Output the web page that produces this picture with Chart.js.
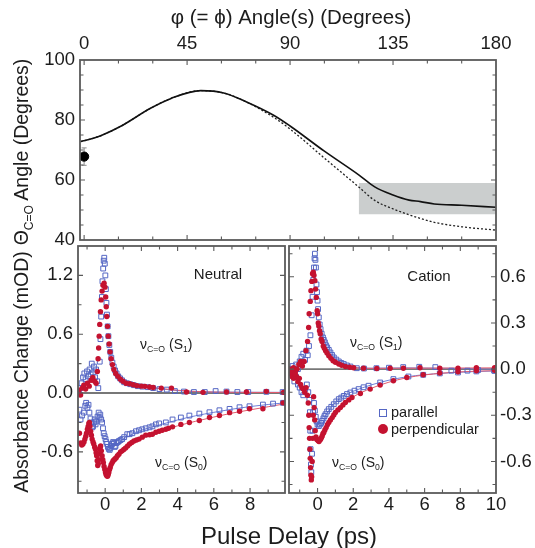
<!DOCTYPE html>
<html>
<head>
<meta charset="utf-8">
<script src="https://cdn.jsdelivr.net/npm/chart.js@4.4.1/dist/chart.umd.min.js"></script>
<style>
html,body{margin:0;padding:0;background:#fff;}
#wrap{position:relative;width:535px;height:548px;overflow:hidden;font-family:"Liberation Sans",Arial,Helvetica,sans-serif;color:#1c1c1c;}
canvas{position:absolute;left:0;top:0;}
.t{position:absolute;white-space:nowrap;line-height:1;}
.c{transform:translate(-50%,-50%);}
.l{transform:translate(0,-50%);}
.rot{transform:translate(-50%,-50%) rotate(-90deg);}
sub{font-size:62%;vertical-align:baseline;position:relative;top:0.38em;}
.sq{position:absolute;width:6px;height:6px;border:1.3px solid #5567c4;background:#fff;}
.dot{position:absolute;width:10px;height:10px;border-radius:50%;background:#c41230;}
</style>
</head>
<body>
<div id="wrap">
  <canvas id="cTop" width="535" height="548"></canvas>
  <canvas id="cNeu" width="535" height="548"></canvas>
  <canvas id="cCat" width="535" height="548"></canvas>

  <div class="t c" style="left:291px;top:17px;font-size:20.5px;">φ (= ϕ) Angle(s) (Degrees)</div>
  <div class="t rot" style="left:22px;top:152px;font-size:19.5px;">Θ<sub>C=O</sub> Angle (Degrees)</div>
  <div class="t rot" style="left:22px;top:372px;font-size:19.5px;">Absorbance Change (mOD)</div>
  <div class="t c" style="left:289px;top:536px;font-size:24px;">Pulse Delay (ps)</div>

  <div class="t c" style="left:218px;top:273px;font-size:15px;">Neutral</div>
  <div class="t c" style="left:429px;top:275px;font-size:15px;">Cation</div>
  <div class="t l" style="left:140px;top:344px;font-size:14px;">ν<sub>C=O</sub> (S<sub>1</sub>)</div>
  <div class="t l" style="left:155px;top:462px;font-size:14px;">ν<sub>C=O</sub> (S<sub>0</sub>)</div>
  <div class="t l" style="left:350px;top:342px;font-size:14px;">ν<sub>C=O</sub> (S<sub>1</sub>)</div>
  <div class="t l" style="left:332px;top:462px;font-size:14px;">ν<sub>C=O</sub> (S<sub>0</sub>)</div>

  <div id="legend"></div>
</div>

<script>
// ---------------- DATA ----------------
// Top panel: dihedral angle phi (deg) vs C=O angle theta (deg)
const phiDeg      = [-1.5, 4, 8, 16, 29, 38, 51, 61, 71, 83, 90, 105, 120, 127, 135, 142, 147, 153, 165, 180];
const thetaSolid  = [72.8, 73.9, 75.0, 77.9, 83.9, 87.2, 89.8, 89.0, 86.0, 81.5, 78.0, 69.6, 61.7, 57.7, 55.0, 53.3, 52.8, 52.0, 51.6, 50.9];
const thetaDotted = [72.8, 73.9, 75.0, 77.9, 83.9, 87.2, 89.8, 89.0, 86.0, 80.8, 77.0, 67.3, 57.7, 53.2, 50.4, 48.4, 47.2, 45.9, 44.4, 43.3];
const measuredPoint = [[0, 67.8]];
const measuredErr   = [[0, 64.9], [0, 70.7]];
const shadedPhi   = [120, 180];
const shadedTheta = [48.6, 59.0];

// Tick positions / labels
const phiTicks   = [0, 15, 30, 45, 60, 75, 90, 105, 120, 135, 150, 165, 180];
const phiLabels  = [0, 45, 90, 135, 180];
const thetaTicks = [40, 45, 50, 55, 60, 65, 70, 75, 80, 85, 90, 95, 100];
const thetaLabels = [40, 60, 80, 100];
const delayTicks = [-1, 0, 1, 2, 3, 4, 5, 6, 7, 8, 9, 10];
const neutralDelayLabels = [0, 2, 4, 6, 8];
const cationDelayLabels  = [0, 2, 4, 6, 8, 10];
const neutralAbsTicks  = [-0.9, -0.6, -0.3, 0, 0.3, 0.6, 0.9, 1.2];
const neutralAbsLabels = [-0.6, 0, 0.6, 1.2];
const cationAbsTicks  = [-0.75, -0.6, -0.45, -0.3, -0.15, 0, 0.15, 0.3, 0.45, 0.6, 0.75];
const cationAbsLabels = [-0.6, -0.3, 0, 0.3, 0.6];

// Neutral: [delay (ps), absorbance change (mOD)]
const neutralParS1 = [[-1.45,0.0],[-1.38,0.05],[-1.3,0.1],[-1.22,0.16],[-1.15,0.2],[-1.08,0.14],[-1.0,0.22],[-0.93,0.17],[-0.86,0.24],[-0.8,0.19],[-0.74,0.3],[-0.68,0.21],[-0.62,0.27],[-0.56,0.16],[-0.5,0.24],[-0.44,0.12],[-0.38,0.05],[-0.3,0.32],[-0.26,0.55],[-0.22,0.78],[-0.18,0.98],[-0.15,1.14],[-0.11,1.27],[-0.08,1.35],[-0.05,1.38],[-0.02,1.32],[0.01,1.2],[0.04,1.06],[0.07,0.92],[0.1,0.8],[0.14,0.68],[0.18,0.58],[0.23,0.49],[0.28,0.42],[0.34,0.36],[0.4,0.31],[0.47,0.27],[0.55,0.23],[0.63,0.2],[0.72,0.17],[0.82,0.15],[0.93,0.13],[1.05,0.11],[1.2,0.1],[1.38,0.09],[1.58,0.08],[1.8,0.07],[2.05,0.065],[2.35,0.06],[2.65,0.05],[3.0,0.04],[3.4,0.035],[3.85,0.02],[4.35,0.015],[4.9,0.01],[5.5,0.01],[6.1,0.02],[6.7,0.015],[7.3,0.01],[7.9,0.01],[8.9,0.012],[9.8,0.01]];
const neutralPerpS1 = [[-1.45,0.03],[-1.36,-0.02],[-1.27,0.05],[-1.18,0.08],[-1.08,0.04],[-0.98,0.1],[-0.88,0.07],[-0.78,0.13],[-0.68,0.16],[-0.58,0.12],[-0.5,0.1],[-0.43,0.22],[-0.39,0.35],[-0.36,0.46],[-0.33,0.58],[-0.3,0.7],[-0.26,0.83],[-0.22,0.95],[-0.17,1.04],[-0.12,1.1],[-0.06,1.12],[-0.01,1.08],[0.03,0.98],[0.06,0.88],[0.09,0.78],[0.13,0.68],[0.17,0.58],[0.22,0.5],[0.27,0.42],[0.33,0.35],[0.4,0.29],[0.48,0.24],[0.58,0.2],[0.7,0.17],[0.84,0.14],[0.98,0.12],[1.15,0.1],[1.35,0.095],[1.55,0.085],[1.75,0.075],[2.0,0.07],[2.2,0.068],[2.45,0.062],[2.65,0.057],[3.1,0.05],[3.66,0.05],[4.49,0.01],[5.4,0.007],[6.7,0.01],[7.8,0.01],[8.9,0.017],[9.84,0.007]];
const neutralParS0 = [[-1.42,-0.17],[-1.36,-0.27],[-1.28,-0.23],[-1.18,-0.2],[-1.1,-0.13],[-1.05,-0.1],[-0.98,-0.15],[-0.92,-0.12],[-0.87,-0.2],[-0.81,-0.26],[-0.76,-0.3],[-0.71,-0.35],[-0.67,-0.34],[-0.62,-0.3],[-0.58,-0.27],[-0.53,-0.32],[-0.49,-0.29],[-0.42,-0.24],[-0.36,-0.2],[-0.31,-0.25],[-0.27,-0.22],[-0.22,-0.27],[-0.17,-0.3],[-0.12,-0.36],[-0.08,-0.41],[-0.03,-0.44],[0.02,-0.47],[0.06,-0.5],[0.11,-0.52],[0.15,-0.55],[0.2,-0.57],[0.25,-0.58],[0.29,-0.56],[0.34,-0.54],[0.39,-0.52],[0.44,-0.5],[0.48,-0.51],[0.53,-0.55],[0.57,-0.54],[0.63,-0.51],[0.7,-0.5],[0.76,-0.49],[0.85,-0.48],[0.94,-0.47],[1.05,-0.45],[1.22,-0.42],[1.35,-0.42],[1.5,-0.41],[1.7,-0.39],[1.87,-0.38],[2.05,-0.37],[2.24,-0.36],[2.45,-0.35],[2.61,-0.34],[2.8,-0.32],[2.98,-0.31],[3.35,-0.3],[3.72,-0.27],[4.18,-0.25],[4.65,-0.23],[5.2,-0.21],[5.76,-0.196],[6.31,-0.176],[6.87,-0.162],[7.42,-0.145],[7.97,-0.135],[8.71,-0.118],[9.27,-0.108],[9.82,-0.1]];
const neutralPerpS0 = [[-1.42,-0.41],[-1.36,-0.51],[-1.29,-0.53],[-1.23,-0.52],[-1.17,-0.5],[-1.12,-0.47],[-1.07,-0.44],[-1.03,-0.41],[-0.98,-0.37],[-0.94,-0.34],[-0.9,-0.31],[-0.87,-0.3],[-0.84,-0.34],[-0.8,-0.39],[-0.76,-0.43],[-0.72,-0.47],[-0.67,-0.5],[-0.63,-0.52],[-0.58,-0.55],[-0.54,-0.57],[-0.5,-0.61],[-0.47,-0.64],[-0.44,-0.69],[-0.41,-0.74],[-0.38,-0.72],[-0.36,-0.68],[-0.33,-0.62],[-0.3,-0.57],[-0.27,-0.55],[-0.25,-0.54],[-0.21,-0.59],[-0.17,-0.64],[-0.13,-0.68],[-0.1,-0.71],[-0.06,-0.75],[-0.02,-0.78],[0.02,-0.81],[0.05,-0.83],[0.09,-0.845],[0.13,-0.85],[0.17,-0.83],[0.2,-0.81],[0.24,-0.78],[0.28,-0.76],[0.33,-0.73],[0.39,-0.71],[0.44,-0.69],[0.5,-0.68],[0.55,-0.67],[0.61,-0.66],[0.68,-0.64],[0.76,-0.625],[0.85,-0.6],[0.94,-0.59],[1.03,-0.575],[1.13,-0.56],[1.24,-0.54],[1.35,-0.52],[1.47,-0.505],[1.59,-0.49],[1.73,-0.48],[1.87,-0.47],[2.05,-0.45],[2.24,-0.43],[2.45,-0.425],[2.61,-0.42],[2.8,-0.4],[2.98,-0.39],[3.15,-0.38],[3.35,-0.37],[3.5,-0.36],[3.72,-0.345],[4.18,-0.32],[4.65,-0.3],[5.2,-0.28],[5.76,-0.25],[6.31,-0.23],[6.87,-0.2],[7.42,-0.186],[7.97,-0.16],[8.71,-0.16],[9.82,-0.1]];
const neutralParFitS0  = [[0.9,-0.48],[1.5,-0.42],[2,-0.38],[3,-0.325],[4,-0.275],[5,-0.232],[6,-0.197],[7,-0.165],[8,-0.138],[9,-0.117],[9.93,-0.1]];
const neutralPerpFitS0 = [[0.9,-0.6],[1.5,-0.52],[2,-0.465],[3,-0.39],[4,-0.335],[5,-0.288],[6,-0.245],[7,-0.205],[8,-0.172],[9,-0.14],[9.93,-0.11]];
const neutralParFitS1  = [[0.8,0.16],[1.2,0.105],[1.6,0.085],[2,0.072],[3,0.045],[4,0.025],[5,0.014],[6,0.01],[8,0.008],[9.93,0.007]];
const neutralPerpFitS1 = [[0.8,0.15],[1.2,0.1],[1.6,0.083],[2,0.07],[3,0.047],[4,0.028],[5,0.016],[6,0.01],[8,0.006],[9.93,0.005]];
const neutralZero = [[-1.5,0],[9.93,0]];

// Cation
const cationParS1 = [[-1.5,0.0],[-1.4,0.02],[-1.3,-0.01],[-1.2,0.03],[-1.1,0.0],[-1.0,0.05],[-0.9,0.08],[-0.8,0.1],[-0.7,0.06],[-0.62,0.12],[-0.55,0.09],[-0.48,0.15],[-0.4,0.22],[-0.33,0.35],[-0.28,0.47],[-0.24,0.58],[-0.2,0.66],[-0.17,0.72],[-0.15,0.75],[-0.12,0.71],[-0.09,0.66],[-0.06,0.55],[-0.03,0.5],[0.0,0.445],[0.03,0.39],[0.07,0.336],[0.12,0.29],[0.17,0.26],[0.23,0.23],[0.3,0.206],[0.35,0.19],[0.41,0.174],[0.47,0.155],[0.54,0.141],[0.63,0.125],[0.72,0.108],[0.81,0.092],[0.91,0.076],[1.05,0.062],[1.19,0.05],[1.33,0.04],[1.47,0.033],[1.65,0.024],[1.84,0.017],[2.2,0.006],[2.6,0.004],[3.3,0.006],[4.0,0.009],[4.8,0.013],[5.7,0.015],[6.6,0.013],[7.5,-0.01],[8.4,-0.01],[9.0,-0.006],[9.9,-0.01]];
const cationPerpS1 = [[-1.55,0.0],[-1.45,-0.02],[-1.35,0.01],[-1.25,-0.03],[-1.15,0.0],[-1.05,0.03],[-0.95,0.05],[-0.85,0.02],[-0.75,0.05],[-0.65,0.12],[-0.56,0.18],[-0.5,0.27],[-0.47,0.36],[-0.41,0.44],[-0.37,0.51],[-0.32,0.57],[-0.28,0.62],[-0.24,0.63],[-0.2,0.61],[-0.15,0.575],[-0.11,0.52],[-0.07,0.466],[-0.02,0.38],[0.0,0.36],[0.04,0.3],[0.07,0.28],[0.11,0.25],[0.15,0.23],[0.2,0.195],[0.25,0.18],[0.32,0.15],[0.38,0.135],[0.45,0.12],[0.53,0.105],[0.63,0.087],[0.75,0.07],[0.87,0.054],[1.0,0.045],[1.19,0.033],[1.35,0.025],[1.56,0.017],[1.8,0.012],[2.02,0.009],[2.58,0.006],[3.32,0.004],[4.07,0.006],[4.81,0.006],[5.74,0.009],[6.85,0.006],[7.87,0.006],[8.9,0.01],[9.92,0.01]];
const cationParS0 = [[-1.5,-0.02],[-1.4,-0.04],[-1.3,-0.08],[-1.2,-0.05],[-1.1,-0.1],[-1.0,-0.12],[-0.9,-0.15],[-0.8,-0.17],[-0.7,-0.13],[-0.6,-0.1],[-0.52,-0.15],[-0.46,-0.2],[-0.43,-0.28],[-0.41,-0.4],[-0.39,-0.52],[-0.37,-0.62],[-0.35,-0.67],[-0.31,-0.55],[-0.28,-0.4],[-0.25,-0.28],[-0.2,-0.22],[-0.15,-0.27],[-0.1,-0.31],[-0.05,-0.34],[0.0,-0.36],[0.07,-0.37],[0.13,-0.36],[0.2,-0.35],[0.26,-0.336],[0.33,-0.32],[0.39,-0.305],[0.45,-0.293],[0.54,-0.275],[0.63,-0.26],[0.77,-0.245],[0.91,-0.228],[1.05,-0.21],[1.19,-0.195],[1.33,-0.185],[1.47,-0.174],[1.65,-0.162],[1.84,-0.152],[2.07,-0.14],[2.3,-0.13],[2.58,-0.118],[2.86,-0.108],[3.51,-0.087],[4.25,-0.065],[5.09,-0.048],[5.92,-0.037],[6.85,-0.028],[7.87,-0.022],[8.9,-0.015],[9.92,-0.011]];
const cationPerpS0 = [[-1.5,-0.03],[-1.42,-0.05],[-1.34,-0.06],[-1.26,-0.02],[-1.18,-0.05],[-1.1,-0.08],[-1.02,-0.06],[-0.95,-0.1],[-0.88,-0.12],[-0.8,-0.13],[-0.72,-0.15],[-0.64,-0.12],[-0.57,-0.17],[-0.52,-0.22],[-0.49,-0.3],[-0.47,-0.38],[-0.45,-0.45],[-0.43,-0.52],[-0.41,-0.58],[-0.39,-0.64],[-0.37,-0.69],[-0.35,-0.72],[-0.33,-0.7],[-0.3,-0.6],[-0.27,-0.45],[-0.24,-0.3],[-0.22,-0.18],[-0.19,-0.25],[-0.16,-0.33],[-0.13,-0.4],[-0.09,-0.44],[-0.05,-0.455],[0.0,-0.46],[0.04,-0.465],[0.08,-0.47],[0.13,-0.46],[0.17,-0.455],[0.22,-0.445],[0.26,-0.434],[0.3,-0.42],[0.35,-0.412],[0.41,-0.395],[0.48,-0.38],[0.55,-0.362],[0.63,-0.347],[0.72,-0.33],[0.82,-0.315],[0.91,-0.298],[1.0,-0.282],[1.14,-0.265],[1.28,-0.25],[1.42,-0.233],[1.56,-0.217],[1.75,-0.2],[1.93,-0.184],[2.4,-0.158],[2.95,-0.13],[3.51,-0.104],[4.25,-0.076],[5.0,-0.054],[5.92,-0.037],[6.85,-0.026],[7.87,-0.017],[8.9,-0.011],[9.92,-0.007]];
const cationParFitS0  = [[0.3,-0.33],[0.5,-0.29],[1,-0.215],[1.5,-0.172],[2,-0.144],[3,-0.103],[4,-0.072],[5,-0.05],[6,-0.036],[7,-0.027],[8,-0.02],[9,-0.015],[10,-0.012]];
const cationPerpFitS0 = [[0.3,-0.43],[0.5,-0.38],[1,-0.285],[1.5,-0.223],[2,-0.18],[3,-0.125],[4,-0.085],[5,-0.056],[6,-0.038],[7,-0.026],[8,-0.018],[9,-0.013],[10,-0.01]];
const cationParFitS1  = [[0.1,0.3],[0.3,0.21],[0.6,0.13],[1,0.07],[1.5,0.034],[2,0.015],[3,0.006],[5,0.008],[10,0.0]];
const cationPerpFitS1 = [[0.1,0.25],[0.3,0.16],[0.6,0.09],[1,0.045],[1.5,0.02],[2,0.01],[3,0.005],[5,0.006],[10,0.008]];
const cationZero = [[-1.6,0],[10,0]];

// ---------------- STYLE / HELPERS ----------------
const FONT = '"Liberation Sans", Arial, Helvetica, sans-serif';
const TXT = '#1c1c1c';
const FRAME = '#5a5a5a';
const BLUE = '#5567c4', RED = '#c41230', BLUE_FIT = '#6f7fd8', RED_FIT = '#e35b6c';

Chart.defaults.font.family = FONT;
Chart.defaults.animation = false;

const pts = arr => arr.map(([x, y]) => ({x, y}));
const zip = (xs, ys) => xs.map((x, i) => ({x, y: ys[i]}));
const fmtInt = v => String(Math.round(v));
const fmt1 = v => (Math.abs(v) < 1e-9 ? 0 : v).toFixed(1);

function axis({position, min, max, ticks, labels, fmt, fit, pad}) {
  const horiz = position === 'top' || position === 'bottom';
  return {
    type: 'linear', position, min, max,
    grid: {display: false, drawTicks: false},
    border: {display: false},
    afterBuildTicks: s => { s.ticks = ticks.map(v => ({value: v})); },
    afterFit: s => { if (horiz) s.height = fit; else s.width = fit; },
    ticks: {
      autoSkip: false, maxRotation: 0, minRotation: 0, padding: pad, color: TXT,
      font: {family: FONT, size: 18.5},
      callback: v => labels.some(l => Math.abs(l - v) < 1e-6) ? fmt(v) : ''
    }
  };
}

// frame + inward tick marks drawn at the scales' own tick positions
const framePlugin = {
  id: 'frame',
  afterDatasetsDraw(chart) {
    const a = chart.chartArea, ctx = chart.ctx;
    ctx.save();
    ctx.strokeStyle = FRAME;
    ctx.lineWidth = 1.8;
    ctx.strokeRect(a.left, a.top, a.right - a.left, a.bottom - a.top);
    ctx.lineWidth = 1.1;
    ctx.beginPath();
    const sx = chart.scales.x, sy = chart.scales.y;
    sx.ticks.forEach(t => {
      const p = sx.getPixelForValue(t.value);
      if (p < a.left + 2 || p > a.right - 2) return;
      const L = t.label ? 5 : 3.5;
      ctx.moveTo(p, a.top); ctx.lineTo(p, a.top + L);
      ctx.moveTo(p, a.bottom); ctx.lineTo(p, a.bottom - L);
    });
    sy.ticks.forEach(t => {
      const p = sy.getPixelForValue(t.value);
      if (p < a.top + 2 || p > a.bottom - 2) return;
      const L = t.label ? 5 : 3.5;
      ctx.moveTo(a.left, p); ctx.lineTo(a.left + L, p);
      ctx.moveTo(a.right, p); ctx.lineTo(a.right - L, p);
    });
    ctx.stroke();
    ctx.restore();
  }
};

const baseOpts = (padding, scales) => ({
  responsive: false, devicePixelRatio: 1, animation: false, events: [],
  layout: {padding},
  plugins: {legend: {display: false}, tooltip: {enabled: false}},
  scales
});

const sqSet = (label, arr) => ({label, data: pts(arr), pointStyle: 'rect', pointRadius: 3.4,
  pointBorderColor: BLUE, pointBackgroundColor: 'rgba(255,255,255,0)', pointBorderWidth: 1, showLine: false, order: 5});
const dotSet = (label, arr) => ({label, data: pts(arr), pointStyle: 'circle', pointRadius: 2.7,
  pointBorderColor: RED, pointBackgroundColor: RED, pointBorderWidth: 0, showLine: false, order: 3});
const lineSet = (label, arr, color, w, order) => ({label, data: pts(arr), showLine: true, borderColor: color,
  borderWidth: w, pointRadius: 0, cubicInterpolationMode: 'monotone', order});

// ---------------- TOP PANEL ----------------
new Chart(document.getElementById('cTop'), {
  type: 'scatter',
  data: {datasets: [
    {label: 'measured', data: pts(measuredPoint), pointRadius: 4.6, pointBackgroundColor: '#000', pointBorderColor: '#000', order: 1},
    {label: 'error', data: pts(measuredErr), showLine: true, borderColor: '#8a8a8a', borderWidth: 1,
      pointStyle: 'line', pointRadius: 2.5, pointBorderColor: '#8a8a8a', pointBorderWidth: 1, order: 2},
    {label: 'solid', data: zip(phiDeg, thetaSolid), showLine: true, borderColor: '#111', borderWidth: 1.6,
      pointRadius: 0, cubicInterpolationMode: 'monotone', order: 3},
    {label: 'dotted', data: zip(phiDeg, thetaDotted), showLine: true, borderColor: '#222', borderWidth: 1.3,
      borderDash: [2, 2], pointRadius: 0, cubicInterpolationMode: 'monotone', order: 4},
    {label: 'rangeTop', data: zip(shadedPhi, [shadedTheta[1], shadedTheta[1]]), showLine: true, borderWidth: 0,
      borderColor: 'rgba(0,0,0,0)', pointRadius: 0, fill: '+1', backgroundColor: '#cbcece', order: 10},
    {label: 'rangeBottom', data: zip(shadedPhi, [shadedTheta[0], shadedTheta[0]]), showLine: true, borderWidth: 0,
      borderColor: 'rgba(0,0,0,0)', pointRadius: 0, order: 11}
  ]},
  options: baseOpts({top: 0, left: 0, right: 39, bottom: 308}, {
    x: axis({position: 'top', min: -1.8, max: 180, ticks: phiTicks, labels: phiLabels, fmt: fmtInt, fit: 60, pad: 5}),
    y: axis({position: 'left', min: 40, max: 100, ticks: thetaTicks, labels: thetaLabels, fmt: fmtInt, fit: 80, pad: 5})
  }),
  plugins: [framePlugin]
});

// ---------------- NEUTRAL ----------------
new Chart(document.getElementById('cNeu'), {
  type: 'scatter',
  data: {datasets: [
    lineSet('zero', neutralZero, '#777', 1.8, 20),
    lineSet('parallel fit S0', neutralParFitS0, BLUE_FIT, 1, 15),
    lineSet('perpendicular fit S0', neutralPerpFitS0, RED_FIT, 1, 14),
    lineSet('parallel fit S1', neutralParFitS1, BLUE_FIT, 1, 15),
    lineSet('perpendicular fit S1', neutralPerpFitS1, RED_FIT, 1, 14),
    sqSet('parallel S1', neutralParS1),
    sqSet('parallel S0', neutralParS0),
    dotSet('perpendicular S1', neutralPerpS1),
    dotSet('perpendicular S0', neutralPerpS0)
  ]},
  options: baseOpts({top: 246, left: 0, right: 250, bottom: 0}, {
    x: axis({position: 'bottom', min: -1.5, max: 9.93, ticks: delayTicks, labels: neutralDelayLabels, fmt: fmtInt, fit: 55, pad: 1}),
    y: axis({position: 'left', min: -1.02, max: 1.5, ticks: neutralAbsTicks, labels: neutralAbsLabels, fmt: fmt1, fit: 78, pad: 5})
  }),
  plugins: [framePlugin]
});

// ---------------- CATION ----------------
new Chart(document.getElementById('cCat'), {
  type: 'scatter',
  data: {datasets: [
    lineSet('zero', cationZero, '#777', 1.8, 20),
    lineSet('parallel fit S0', cationParFitS0, BLUE_FIT, 1, 15),
    lineSet('perpendicular fit S0', cationPerpFitS0, RED_FIT, 1, 14),
    lineSet('parallel fit S1', cationParFitS1, BLUE_FIT, 1, 15),
    lineSet('perpendicular fit S1', cationPerpFitS1, RED_FIT, 1, 14),
    sqSet('parallel S1', cationParS1),
    sqSet('parallel S0', cationParS0),
    dotSet('perpendicular S1', cationPerpS1),
    dotSet('perpendicular S0', cationPerpS0)
  ]},
  options: baseOpts({top: 246, left: 289, right: 0, bottom: 0}, {
    x: axis({position: 'bottom', min: -1.6, max: 10, ticks: delayTicks, labels: cationDelayLabels, fmt: fmtInt, fit: 55, pad: 1}),
    y: axis({position: 'right', min: -0.805, max: 0.8, ticks: cationAbsTicks, labels: cationAbsLabels, fmt: fmt1, fit: 39, pad: 4})
  }),
  plugins: [framePlugin]
});

// ---------------- LEGEND (inside cation panel) ----------------
const legendItems = [
  {text: 'parallel', cls: 'sq', mx: 378.5, my: 408.5, y: 412},
  {text: 'perpendicular', cls: 'dot', mx: 378, my: 424, y: 429}
];
const lg = document.getElementById('legend');
legendItems.forEach(it => {
  const m = document.createElement('div');
  m.className = it.cls; m.style.left = it.mx + 'px'; m.style.top = it.my + 'px';
  lg.appendChild(m);
  const t = document.createElement('div');
  t.className = 't l'; t.style.left = '391px'; t.style.top = it.y + 'px'; t.style.fontSize = '14.5px';
  t.textContent = it.text;
  lg.appendChild(t);
});
</script>
</body>
</html>
